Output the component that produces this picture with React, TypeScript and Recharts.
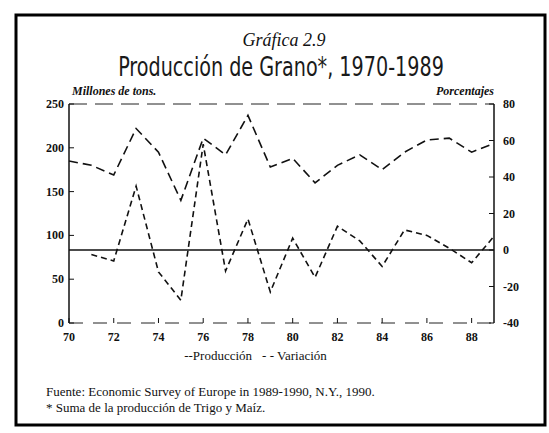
import React from 'react'
import { LineChart, Line, XAxis, YAxis, ReferenceLine, Legend } from 'recharts'

const years = [1970, 1971, 1972, 1973, 1974, 1975, 1976, 1977, 1978, 1979, 1980, 1981, 1982, 1983, 1984, 1985, 1986, 1987, 1988, 1989]
// millones de toneladas
const produccion = [185, 180, 169, 222, 195, 140, 211, 192, 237, 178, 188, 160, 180, 192, 175, 195, 209, 211, 195, 205]
// porcentaje de variación anual
const variacion = [null, -2.5, -6, 35, -12, -27.5, 58, -11.5, 17, -23, 6.5, -15, 13, 5, -9, 11, 8, 1, -7, 7.5]

const xTicks = [1970, 1972, 1974, 1976, 1978, 1980, 1982, 1984, 1986, 1988]
const leftTicks = [0, 50, 100, 150, 200, 250]
const rightTicks = [-40, -20, 0, 20, 40, 60, 80]

const SERIF = "'Liberation Serif', 'Times New Roman', serif"
const NARROW = "'DejaVu Sans Condensed', 'Liberation Sans', sans-serif"

const tickText = { fontFamily: SERIF, fontSize: 12, fontWeight: 700, fill: '#111' }

function LeftTick({ x, y, payload }: any) {
  return (
    <g>
      <line x1={x + 5} x2={x + 10} y1={y} y2={y} stroke="#111" />
      <text x={x} y={y} dy={4} textAnchor="end" {...tickText}>{payload.value}</text>
    </g>
  )
}

function RightTick({ x, y, payload }: any) {
  return (
    <g>
      <line x1={x - 9} x2={x - 14} y1={y} y2={y} stroke="#111" />
      <text x={x} y={y} dy={4} textAnchor="start" {...tickText}>{payload.value}</text>
    </g>
  )
}

function BottomTick({ x, y, payload }: any) {
  return (
    <g>
      <line x1={x} x2={x} y1={y - 8} y2={y - 13} stroke="#111" />
      <text x={x} y={y} dy={10} textAnchor="middle" {...tickText}>{String(payload.value).slice(2)}</text>
    </g>
  )
}

function LegendText() {
  return (
    <div style={{ fontFamily: SERIF, fontSize: 13, color: '#111', textAlign: 'center', paddingRight: 38 }}>
      <span>--Producción</span>
      <span style={{ marginLeft: 10 }}>- - Variación</span>
    </div>
  )
}

export default function App() {
  const data = years.map((year, i) => ({
    year,
    produccion: produccion[i],
    variacion: variacion[i],
  }))

  return (
    <div style={{ position: 'absolute', left: 0, top: 0, width: 549, height: 433, background: '#fff' }}>
      <LineChart
        width={549}
        height={433}
        data={data}
        margin={{ top: 104, right: 15, bottom: 74, left: 29 }}
        style={{ position: 'absolute', left: 0, top: 0 }}
      >
        <XAxis
          dataKey="year"
          type="number"
          domain={[1970, 1989]}
          ticks={xTicks}
          tick={<BottomTick />}
          tickLine={{ stroke: 'none' }}
          tickSize={0}
          tickMargin={8}
          axisLine={{ stroke: '#222', strokeDasharray: '14 10' }}
          height={20}
        />
        <YAxis
          yAxisId="left"
          domain={[0, 250]}
          ticks={leftTicks}
          tick={<LeftTick />}
          tickLine={{ stroke: 'none' }}
          tickSize={0}
          tickMargin={5}
          axisLine={{ stroke: '#111', strokeWidth: 1.5 }}
          width={40}
        />
        <YAxis
          yAxisId="right"
          orientation="right"
          domain={[-40, 80]}
          ticks={rightTicks}
          tick={<RightTick />}
          tickLine={{ stroke: 'none' }}
          tickSize={0}
          tickMargin={9}
          axisLine={{ stroke: '#111', strokeWidth: 1.5 }}
          width={40}
        />
        <ReferenceLine yAxisId="left" y={250} stroke="#222" strokeDasharray="18 8" />
        <ReferenceLine yAxisId="right" y={0} stroke="#111" strokeWidth={1.6} />
        <Line
          yAxisId="left"
          dataKey="produccion"
          stroke="#111"
          strokeWidth={1.6}
          strokeDasharray="9 5"
          dot={false}
          isAnimationActive={false}
        />
        <Line
          yAxisId="right"
          dataKey="variacion"
          stroke="#111"
          strokeWidth={1.6}
          strokeDasharray="6 4"
          dot={false}
          connectNulls={false}
          isAnimationActive={false}
        />
        <Legend content={<LegendText />} wrapperStyle={{ top: 348, left: 0, width: 549 }} />
      </LineChart>

      <svg width={549} height={433} style={{ position: 'absolute', left: 0, top: 0, pointerEvents: 'none' }}>
        <rect x={16} y={15} width={529} height={410} fill="none" stroke="#000" strokeWidth={3} />
        <text x={284} y={46} textAnchor="middle" fontFamily={SERIF} fontStyle="italic" fontSize={18} fill="#111">
          Gráfica 2.9
        </text>
        <text
          x={0}
          y={0}
          transform="translate(281,76) scale(0.82,1)"
          textAnchor="middle"
          fontFamily={NARROW}
          fontSize={26}
          fill="#1a1a1a"
        >
          Producción de Grano*, 1970-1989
        </text>
        <text x={72} y={95} fontFamily={SERIF} fontStyle="italic" fontWeight={700} fontSize={12} fill="#111">
          Millones de tons.
        </text>
        <text x={494} y={95} textAnchor="end" fontFamily={SERIF} fontStyle="italic" fontWeight={700} fontSize={12} fill="#111">
          Porcentajes
        </text>
        <text x={46} y={396} fontFamily={SERIF} fontSize={13} fill="#111">
          Fuente: Economic Survey of Europe in 1989-1990, N.Y., 1990.
        </text>
        <text x={46} y={412} fontFamily={SERIF} fontSize={13} fill="#111">
          * Suma de la producción de Trigo y Maíz.
        </text>
      </svg>
    </div>
  )
}
